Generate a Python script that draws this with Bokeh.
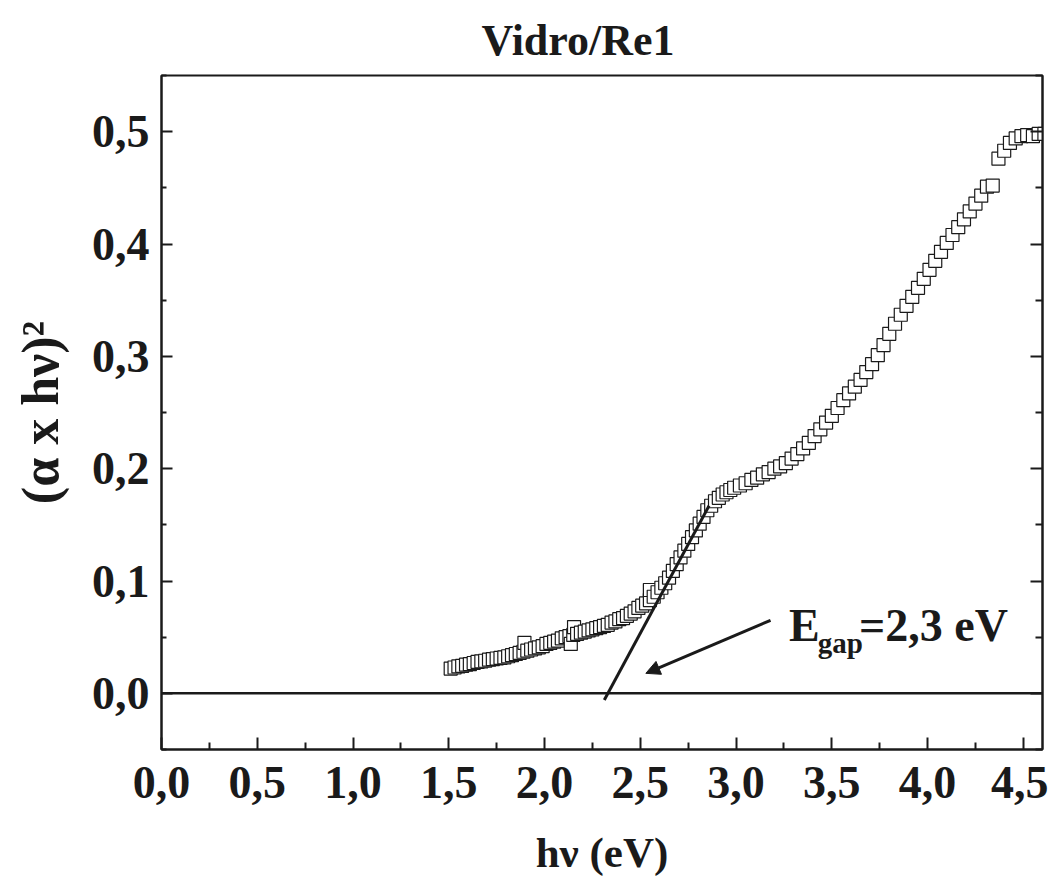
from bokeh.plotting import figure
from bokeh.models import (Range1d, LinearAxis, Span, Arrow, NormalHead, Label,
                          CustomJSTickFormatter, FixedTicker)
from bokeh.embed import file_html
from bokeh.resources import INLINE

# ---------------- data ----------------
hv = [1.51, 1.53, 1.55, 1.57, 1.59, 1.61, 1.63, 1.65, 1.67, 1.69,
      1.71, 1.73, 1.75, 1.77, 1.79, 1.81, 1.83, 1.85, 1.87, 1.89,
      1.895, 1.91, 1.93, 1.95, 1.97, 1.99, 2.01, 2.03, 2.05, 2.07,
      2.09, 2.11, 2.13, 2.137, 2.15, 2.154, 2.17, 2.19, 2.21, 2.23,
      2.25, 2.27, 2.29, 2.31, 2.33, 2.35, 2.37, 2.39, 2.41, 2.43,
      2.45, 2.47, 2.49, 2.51, 2.53, 2.55, 2.55, 2.57, 2.59, 2.61,
      2.63, 2.65, 2.67, 2.69, 2.71, 2.73, 2.75, 2.77, 2.79, 2.81,
      2.83, 2.85, 2.87, 2.89, 2.91, 2.93, 2.95, 2.97, 2.99, 3.02,
      3.05, 3.08, 3.11, 3.14, 3.17, 3.20, 3.23, 3.26, 3.29, 3.32,
      3.35, 3.38, 3.41, 3.44, 3.47, 3.50, 3.53, 3.56, 3.59, 3.62,
      3.65, 3.68, 3.71, 3.74, 3.77, 3.80, 3.83, 3.86, 3.89, 3.92,
      3.95, 3.98, 4.01, 4.04, 4.07, 4.10, 4.13, 4.16, 4.19, 4.22,
      4.25, 4.28, 4.31, 4.34, 4.37, 4.40, 4.43, 4.46, 4.49, 4.52,
      4.55, 4.58, 4.61]
alpha_hv2 = [0.022, 0.023, 0.024, 0.0245, 0.0255, 0.026, 0.027, 0.028, 0.0285, 0.029,
             0.030, 0.0305, 0.031, 0.0315, 0.032, 0.033, 0.034, 0.035, 0.036, 0.037,
             0.045, 0.038, 0.039, 0.040, 0.041, 0.042, 0.044, 0.045, 0.046, 0.047,
             0.049, 0.050, 0.051, 0.044, 0.052, 0.059, 0.053, 0.054, 0.055, 0.056,
             0.057, 0.058, 0.059, 0.060, 0.061, 0.063, 0.064, 0.066, 0.067, 0.069,
             0.071, 0.073, 0.076, 0.078, 0.080, 0.083, 0.092, 0.086, 0.090, 0.094,
             0.098, 0.103, 0.109, 0.115, 0.121, 0.127, 0.133, 0.139, 0.145, 0.151,
             0.157, 0.163, 0.167, 0.171, 0.174, 0.177, 0.179, 0.181, 0.183, 0.185,
             0.187, 0.190, 0.192, 0.195, 0.197, 0.200, 0.202, 0.205, 0.209, 0.213,
             0.218, 0.223, 0.229, 0.235, 0.241, 0.247, 0.254, 0.261, 0.267, 0.273,
             0.279, 0.286, 0.293, 0.301, 0.310, 0.320, 0.329, 0.337, 0.345, 0.353,
             0.361, 0.369, 0.377, 0.385, 0.393, 0.401, 0.408, 0.415, 0.422, 0.429,
             0.436, 0.443, 0.451, 0.452, 0.476, 0.483, 0.490, 0.494, 0.496, 0.497,
             0.496, 0.498, 0.498]

tangent_x = [2.312, 2.859]
tangent_y = [-0.006, 0.167]

arrow_start = (3.18, 0.065)
arrow_end = (2.529, 0.0178)

x_ticks = [0.0, 0.5, 1.0, 1.5, 2.0, 2.5, 3.0, 3.5, 4.0, 4.5]
x_minor = [0.25, 0.75, 1.25, 1.75, 2.25, 2.75, 3.25, 3.75, 4.25]
y_ticks = [0.0, 0.1, 0.2, 0.3, 0.4, 0.5]
y_minor = [-0.05, 0.05, 0.15, 0.25, 0.35, 0.45, 0.55]

title_text = "Vidro/Re1"
x_label = "h\u03bd (eV)"
y_label = "(\u03b1 x h\u03bd)\u00b2"
egap_main = "E"
egap_sub = "gap"
egap_rest = "=2,3 eV"

FONT = "Liberation Serif"
INK = "#1a1a1a"

# ---------------- figure ----------------
p = figure(frame_width=881, frame_height=674,
           x_range=Range1d(0, 4.6), y_range=Range1d(-0.05, 0.55),
           output_backend="svg", toolbar_location=None,
           min_border_left=161, min_border_top=75, min_border_right=6,
           min_border_bottom=118)
p.background_fill_color = "white"
p.border_fill_color = "white"
p.outline_line_color = INK
p.outline_line_width = 2
p.xgrid.visible = False
p.ygrid.visible = False

p.title.text = title_text
p.title.text_font = FONT
p.title.text_font_style = "bold"
p.title.text_font_size = "44px"
p.title.align = "left"
p.title.offset = 320
p.title.standoff = 21
p.title.text_color = INK

fmt = CustomJSTickFormatter(code="return tick.toFixed(1).replace('.', ',');")

xa = p.xaxis[0]
xa.ticker = FixedTicker(ticks=x_ticks, minor_ticks=x_minor)
xa.formatter = fmt
ya = p.yaxis[0]
ya.ticker = FixedTicker(ticks=y_ticks, minor_ticks=y_minor)
ya.formatter = fmt

for ax, lab in ((xa, x_label), (ya, y_label)):
    ax.axis_label = lab
    ax.axis_label_text_font = FONT
    ax.axis_label_text_font_style = "bold"
    ax.axis_label_text_font_size = "43px"
    ax.axis_label_text_color = INK
    ax.major_label_text_font = FONT
    ax.major_label_text_font_style = "bold"
    ax.major_label_text_font_size = "46px"
    ax.major_label_text_color = INK
    ax.axis_line_width = 2
    ax.axis_line_color = INK
    ax.major_tick_line_width = 2
    ax.minor_tick_line_width = 2
    ax.major_tick_line_color = INK
    ax.minor_tick_line_color = INK
    ax.major_tick_out = 0
    ax.minor_tick_out = 0

ya.axis_label_text_font_size = "52px"
xa.major_tick_in = 12
xa.minor_tick_in = 7
xa.major_label_standoff = 17
xa.axis_label_standoff = 28
ya.major_tick_in = 11
ya.minor_tick_in = 5
ya.major_label_standoff = 12
ya.axis_label_standoff = 20

ra = LinearAxis(ticker=FixedTicker(ticks=y_ticks, minor_ticks=y_minor),
                formatter=CustomJSTickFormatter(code="return '';"),
                major_tick_in=12, major_tick_out=0,
                minor_tick_in=7, minor_tick_out=0,
                major_tick_line_width=2, minor_tick_line_width=2,
                major_tick_line_color=INK, minor_tick_line_color=INK,
                axis_line_width=2, axis_line_color=INK, major_label_standoff=0)
p.add_layout(ra, "right")

# zero line
p.add_layout(Span(location=0, dimension="width", line_color=INK, line_width=2.5))

# data
p.scatter(hv, alpha_hv2, marker="square", size=13, fill_color="white",
          line_color=INK, line_width=1.2)

# tangent
p.line(tangent_x, tangent_y, line_color=INK, line_width=3)

# arrow
p.add_layout(Arrow(x_start=arrow_start[0], y_start=arrow_start[1],
                   x_end=arrow_end[0], y_end=arrow_end[1],
                   line_width=3, line_color=INK,
                   end=NormalHead(size=14, fill_color=INK, line_color=INK)))

# E_gap annotation
p.add_layout(Label(x=3.276, y=0.0605, text=egap_main, text_font=FONT,
                   text_font_style="bold", text_font_size="46px",
                   text_color=INK, text_baseline="alphabetic"))
p.add_layout(Label(x=3.427, y=0.045, text=egap_sub, text_font=FONT,
                   text_font_style="bold", text_font_size="29px",
                   text_color=INK, text_baseline="alphabetic"))
p.add_layout(Label(x=3.642, y=0.0605, text=egap_rest, text_font=FONT,
                   text_font_style="bold", text_font_size="46px",
                   text_color=INK, text_baseline="alphabetic"))

open("out.html", "w").write(file_html(p, INLINE))
